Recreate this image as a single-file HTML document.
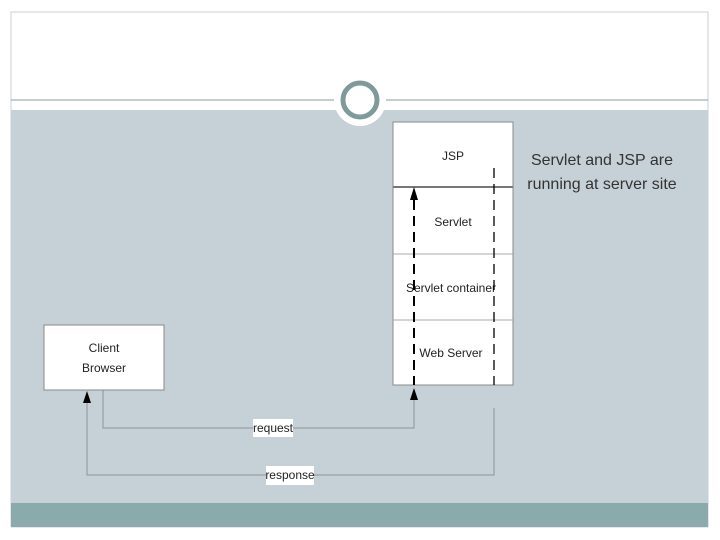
<!DOCTYPE html>
<html><head><style>
body{margin:0;width:720px;height:540px;background:#fff;overflow:hidden;font-family:"Liberation Sans",sans-serif}
</style></head><body>
<svg width="720" height="540" viewBox="0 0 720 540" xmlns="http://www.w3.org/2000/svg" style="position:absolute;left:0;top:0">
<rect x="11" y="12" width="697" height="515" fill="#fff" stroke="#c8d0d4"/>
<rect x="11" y="110" width="697" height="393" fill="#c6d1d7"/>
<rect x="11" y="503" width="697" height="24" fill="#8aaaab"/>
<line x1="11" y1="100" x2="335" y2="100" stroke="#8a9ca0"/>
<line x1="385" y1="100" x2="708" y2="100" stroke="#8a9ca0"/>
<circle cx="360" cy="100" r="26" fill="#fff"/>
<circle cx="360" cy="100" r="17" fill="none" stroke="#7f9a9a" stroke-width="5"/>
<rect x="393" y="122" width="120" height="263" fill="#fff" stroke="#8a8a8a"/>
<line x1="393" y1="187" x2="513" y2="187" stroke="#777" stroke-width="2"/>
<line x1="393" y1="254" x2="513" y2="254" stroke="#aaa"/>
<line x1="393" y1="320" x2="513" y2="320" stroke="#aaa"/>
<rect x="44" y="325" width="120" height="65" fill="#fff" stroke="#8a8a8a"/>
<g font-size="12" fill="#222" text-anchor="middle">
<text x="453" y="160">JSP</text>
<text x="453" y="226">Servlet</text>
<text x="451" y="292">Servlet container</text>
<text x="451" y="357">Web Server</text>
<text x="104" y="352">Client</text>
<text x="104" y="372">Browser</text>
</g>
<line x1="414" y1="200" x2="414" y2="385" stroke="#000" stroke-width="2" stroke-dasharray="10,6"/>
<polygon points="414,187 410,200 418,200" fill="#000"/>
<line x1="494" y1="168" x2="494" y2="385" stroke="#000" stroke-width="1.3" stroke-dasharray="10,6"/>
<polyline points="103,390 103,428 414,428 414,400" fill="none" stroke="#8a9298" stroke-width="1"/>
<polygon points="414,388 410,400 418,400" fill="#000"/>
<polyline points="494,408 494,475 87,475 87,403" fill="none" stroke="#8a9298" stroke-width="1"/>
<polygon points="87,391 83,403 91,403" fill="#000"/>
<rect x="253" y="419" width="40" height="18" fill="#fff"/>
<text x="273" y="432" font-size="12" text-anchor="middle" fill="#222">request</text>
<rect x="266" y="466" width="48" height="19" fill="#fff"/>
<text x="290" y="479" font-size="12" text-anchor="middle" fill="#222">response</text>
<g font-size="16" fill="#333" text-anchor="middle">
<text x="602" y="165">Servlet and JSP are</text>
<text x="602" y="189">running at server site</text>
</g>
</svg>
</body></html>
